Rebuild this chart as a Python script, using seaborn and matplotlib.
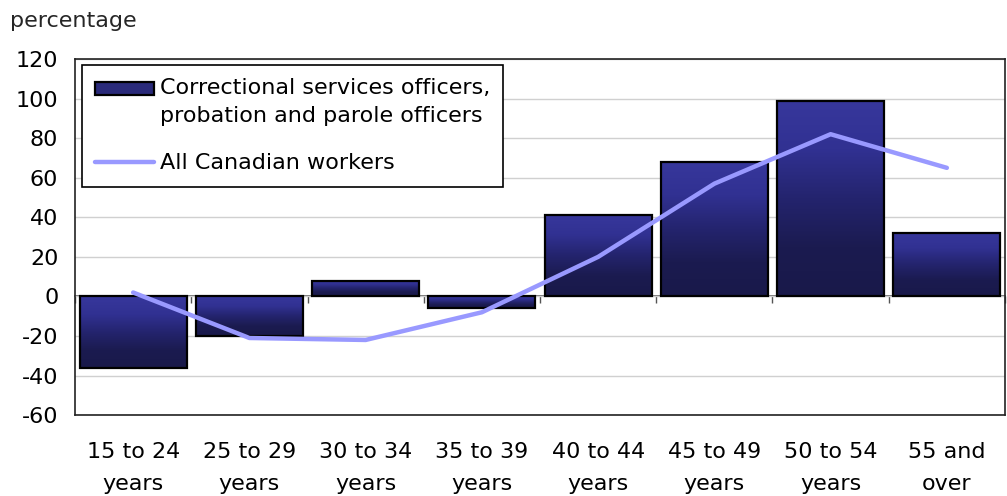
import numpy as np
import pandas as pd
import matplotlib
matplotlib.use("Agg")
import matplotlib.pyplot as plt
import seaborn as sns
from matplotlib.colors import LinearSegmentedColormap
from matplotlib.patches import Patch, Rectangle
from matplotlib.lines import Line2D
from matplotlib.legend_handler import HandlerPatch

# Age groups and percentage change values
age_groups = ["15 to 24\nyears", "25 to 29\nyears", "30 to 34\nyears", "35 to 39\nyears",
              "40 to 44\nyears", "45 to 49\nyears", "50 to 54\nyears", "55 and\nover"]
correctional = [-36, -20, 8, -6, 41, 68, 99, 32]
all_workers = [2, -21, -22, -8, 20, 57, 82, 65]
y_ticks = [-60, -40, -20, 0, 20, 40, 60, 80, 100, 120]

bar_label = "Correctional services officers,\nprobation and parole officers"
line_label = "All Canadian workers"

FS = 16

sns.set_theme(style="white")
plt.rcParams["font.family"] = ["DejaVu Sans"]

fig = plt.figure(figsize=(10.07, 4.96), dpi=100)
ax = fig.add_axes([0.0745, 0.163, 0.9235, 0.718])

df = pd.DataFrame({"group": age_groups, "value": correctional})
sns.barplot(data=df, x="group", y="value", ax=ax, width=0.92,
            color="#2a2a7a", edgecolor="black", linewidth=1.6, zorder=3)

# vertical gradient fill inside each bar
grad_cmap = LinearSegmentedColormap.from_list(
    "bar_grad", ["#37379c", "#313192", "#24246e", "#1b1b50", "#19194a"])
grad = np.linspace(0, 1, 256).reshape(-1, 1)
ylim = (-60, 120)
for patch in list(ax.patches):
    x0, y0 = patch.get_x(), patch.get_y()
    w, h = patch.get_width(), patch.get_height()
    top, bottom = max(y0, y0 + h), min(y0, y0 + h)
    im = ax.imshow(grad, cmap=grad_cmap, aspect="auto", origin="upper",
                   extent=[x0, x0 + w, bottom, top], zorder=2.5)
    im.set_clip_path(patch)
    patch.set_facecolor("none")

sns.lineplot(x=np.arange(len(age_groups)), y=all_workers, ax=ax,
             color="#9999ff", linewidth=3.2, zorder=4)

ax.set_xlim(-0.5, len(age_groups) - 0.5)
ax.set_ylim(*ylim)
ax.set_yticks(y_ticks)
ax.set_yticklabels([str(v) for v in y_ticks], fontsize=FS)
ax.tick_params(axis="y", length=0, pad=12, colors="black")
ax.set_xticks(np.arange(len(age_groups)))
ax.set_xticklabels(age_groups, fontsize=FS, linespacing=1.75)
ax.tick_params(axis="x", length=0, pad=19, colors="black")
ax.set_xlabel("")
ax.set_ylabel("")
ax.yaxis.grid(True, color="#d0d0d0", linewidth=1.0, zorder=0)
ax.set_axisbelow(True)
for s in ax.spines.values():
    s.set_visible(True)
    s.set_color("#222222")
    s.set_linewidth(1.2)

# zero baseline with tick marks between categories
zero_frac = (0 - ylim[0]) / (ylim[1] - ylim[0])
sec = ax.secondary_xaxis(zero_frac)
sec.set_xticks(np.arange(len(age_groups) + 1) - 0.5)
sec.set_xticklabels([])
sec.tick_params(axis="x", direction="out", length=5, width=1, colors="#555555")
sec.spines["bottom"].set_color("#555555")
sec.spines["bottom"].set_linewidth(1.2)


def top_aligned_patch(legend, orig_handle, xdescent, ydescent, width, height, fontsize):
    # keep the swatch level with the first line of a two-line label
    return Rectangle((-xdescent, -ydescent + 0.62 * fontsize), width, height)


handles = [Patch(facecolor="#2a2a7a", edgecolor="black", linewidth=1.6),
           Line2D([0], [0], color="#9999ff", linewidth=3.2)]
leg = ax.legend(handles, [bar_label, line_label], loc="upper left",
                bbox_to_anchor=(0.0075, 0.983), borderaxespad=0,
                fontsize=FS, frameon=True, fancybox=False, framealpha=1,
                handlelength=2.65, handleheight=0.55, handletextpad=0.25,
                labelspacing=1.25, borderpad=0.6,
                handler_map={Patch: HandlerPatch(patch_func=top_aligned_patch)})
leg.get_frame().set_edgecolor("black")
leg.get_frame().set_linewidth(1.2)
leg.set_zorder(10)
for t in leg.get_texts():
    t.set_color("black")
    t.set_linespacing(1.45)

fig.text(0.01, 0.958, "percentage", fontsize=FS, ha="left", va="center")

fig.savefig("out.png", dpi=100)
